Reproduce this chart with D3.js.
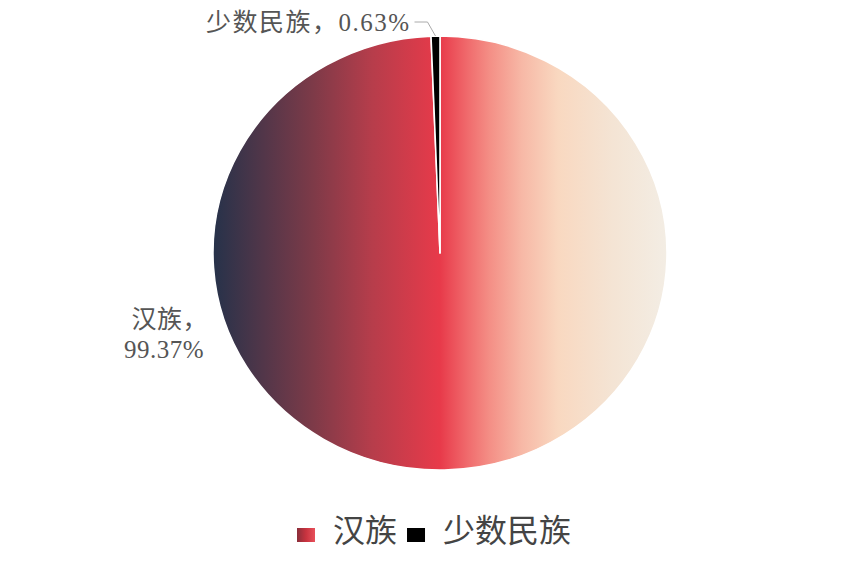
<!DOCTYPE html>
<html lang="zh">
<head>
    <meta charset="UTF-8">
    <title>民族构成</title>
    <script src="https://d3js.org/d3.v7.min.js"></script>
    <style>
        body {
            margin: 0;
            background: #fff;
            font-family: "Liberation Serif", "Noto Sans CJK SC", serif;
        }
    </style>
</head>
<body>
    <div id="chart"></div>
    <script>
        const categories = ["汉族", "少数民族"];
        const shares = [99.37, 0.63];
        const sliceColors = ["url(#pieGrad)", "#000000"];

        const width = 862, height = 569;
        const cx = 440, cy = 253, r = 217, stretch = 227 / 217;

        const svg = d3.select("#chart").append("svg")
            .attr("width", width)
            .attr("height", height);

        const defs = svg.append("defs");
        const grad = defs.append("linearGradient")
            .attr("id", "pieGrad")
            .attr("gradientUnits", "userSpaceOnUse")
            .attr("x1", -r).attr("x2", r).attr("y1", 0).attr("y2", 0);
        [[0, "#26324a"], [0.22, "#7d3a48"], [0.35, "#b63d4b"], [0.5, "#e83a4a"],
         [0.56, "#f06a6c"], [0.61, "#f48f86"], [0.68, "#f7b8a6"], [0.76, "#f9d8c0"],
         [0.88, "#f4e4d4"], [1, "#f3ede4"]]
            .forEach(([o, c]) => grad.append("stop").attr("offset", o).attr("stop-color", c));

        const legGrad = defs.append("linearGradient")
            .attr("id", "legGrad")
            .attr("x1", 0).attr("x2", 1).attr("y1", 0).attr("y2", 0);
        [[0, "#8a2e3a"], [0.5, "#c8333f"], [1, "#e8505a"]]
            .forEach(([o, c]) => legGrad.append("stop").attr("offset", o).attr("stop-color", c));

        const data = categories.map((name, i) => ({ name, value: shares[i], color: sliceColors[i] }));

        const pie = d3.pie().sort(null).value(d => d.value);
        const arc = d3.arc().innerRadius(0).outerRadius(r);
        const arcs = pie(data);

        const g = svg.append("g")
            .attr("transform", `translate(${cx},${cy}) scale(${stretch},1)`);

        g.selectAll("path")
            .data(arcs)
            .enter()
            .append("path")
            .attr("d", arc)
            .attr("fill", d => d.data.color)
            .attr("stroke", "#fff")
            .attr("stroke-width", 1.5)
            .attr("stroke-linejoin", "round");

        // label for the small slice, with leader line
        const small = arcs[1];
        const mid = (small.startAngle + small.endAngle) / 2;
        const p0 = [cx + Math.sin(mid) * r * stretch, cy - Math.cos(mid) * r];
        const p1 = [p0[0] - 8, 22];
        const p2 = [p1[0] - 13, 22];
        svg.append("polyline")
            .attr("points", [p0, p1, p2].map(p => p.join(",")).join(" "))
            .attr("fill", "none")
            .attr("stroke", "#aaa")
            .attr("stroke-width", 1);

        svg.append("text")
            .attr("x", p2[0] - 4)
            .attr("y", 31)
            .attr("text-anchor", "end")
            .attr("font-size", 25)
            .attr("letter-spacing", 1.5)
            .attr("fill", "#555")
            .text(`${small.data.name}，${small.data.value.toFixed(2)}%`);

        const big = arcs[0];
        const bigLabel = svg.append("text")
            .attr("text-anchor", "end")
            .attr("font-size", 25)
            .attr("letter-spacing", 0.5)
            .attr("fill", "#555");
        bigLabel.append("tspan").attr("x", 208).attr("y", 328).text(`${big.data.name}，`);
        bigLabel.append("tspan").attr("x", 204).attr("y", 358).text(`${big.data.value.toFixed(2)}%`);

        // legend
        const legend = svg.append("g").attr("transform", "translate(297,540)");
        let lx = 0;
        data.forEach((d, i) => {
            legend.append("rect")
                .attr("x", lx).attr("y", -12)
                .attr("width", 18).attr("height", 14)
                .attr("fill", i === 0 ? "url(#legGrad)" : d.color);
            const t = legend.append("text")
                .attr("x", lx + 36).attr("y", 2)
                .attr("font-size", 32)
                .attr("fill", "#444")
                .text(d.name);
            lx += 36 + t.node().getComputedTextLength() + 10;
        });
    </script>
</body>
</html>
